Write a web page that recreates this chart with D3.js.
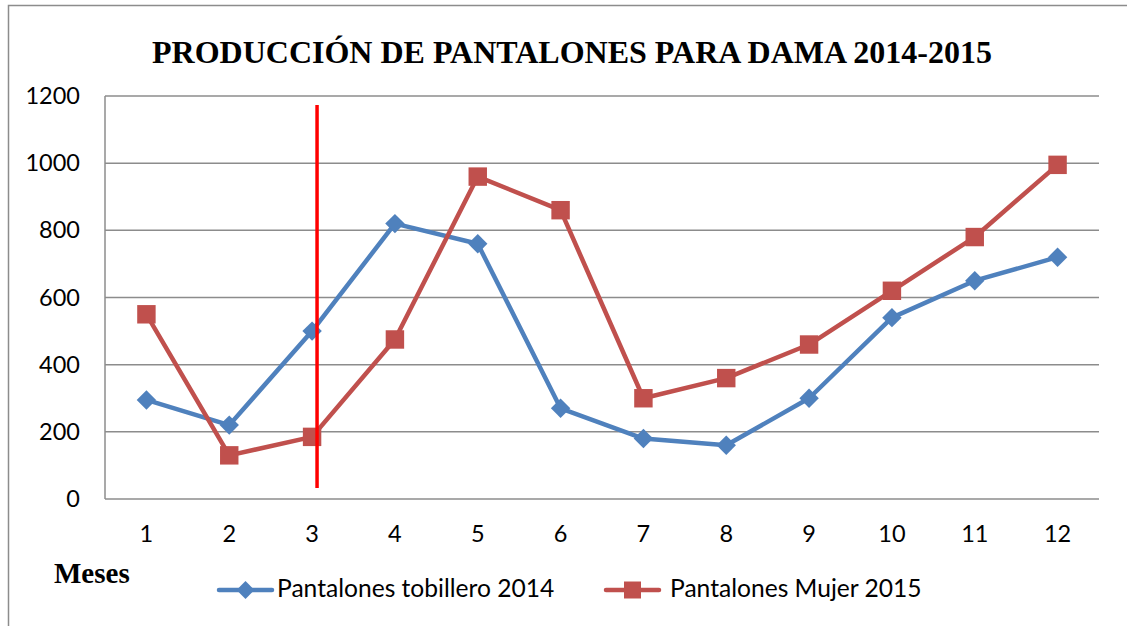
<!DOCTYPE html>
<html>
<head>
<meta charset="utf-8">
<script src="https://cdn.jsdelivr.net/npm/d3@7"></script>
<style>
  body { margin: 0; background: #fff; }
  svg { display: block; }
</style>
</head>
<body>
<div class="bg"></div>
<script>
const months = [1, 2, 3, 4, 5, 6, 7, 8, 9, 10, 11, 12];
const tobillero2014 = [295, 220, 500, 820, 760, 270, 180, 160, 300, 540, 650, 720];
const mujer2015 = [550, 130, 185, 475, 960, 860, 300, 360, 460, 620, 780, 995];
const yTicks = [0, 200, 400, 600, 800, 1000, 1200];
const seriesNames = ["Pantalones tobillero 2014", "Pantalones Mujer 2015"];
// red marker line drawn over the chart, in month / value units
const markerMonth = 3.06;
const markerRange = [33, 1173];

const W = 1127, H = 626;
const margin = { top: 96, right: 28, bottom: 127, left: 105 };
const width = W - margin.left - margin.right;
const height = H - margin.top - margin.bottom;

const svg = d3.select(".bg").append("svg")
  .attr("width", W)
  .attr("height", H);

// outer frame (only top and left edges are visible)
svg.append("path")
  .attr("d", "M8.5," + H + "V5.5H" + W)
  .attr("fill", "none")
  .attr("stroke", "#8c8c8c")
  .attr("stroke-width", 1.5);

svg.append("text")
  .attr("x", 572)
  .attr("y", 63)
  .attr("text-anchor", "middle")
  .attr("font-family", "Liberation Serif, Times New Roman, serif")
  .attr("font-weight", "bold")
  .attr("font-size", 32)
  .text("PRODUCCIÓN DE PANTALONES PARA DAMA 2014-2015");

const g = svg.append("g")
  .attr("transform", "translate(" + margin.left + "," + margin.top + ")");

const xScale = d3.scaleBand().domain(months).range([0, width]);
const yScale = d3.scaleLinear().domain([0, 1200]).range([height, 0]);
const xLin = d3.scaleLinear()
  .domain([1, 12])
  .range([xScale(1) + xScale.bandwidth() / 2, xScale(12) + xScale.bandwidth() / 2]);

// gridlines
g.append("g")
  .selectAll("line")
  .data(yTicks)
  .join("line")
  .attr("x1", 0)
  .attr("x2", width)
  .attr("y1", d => yScale(d))
  .attr("y2", d => yScale(d))
  .attr("stroke", "#8c8c8c")
  .attr("stroke-width", 1.5);

g.append("line")
  .attr("x1", 0).attr("x2", 0)
  .attr("y1", 0).attr("y2", height)
  .attr("stroke", "#8c8c8c")
  .attr("stroke-width", 1.5);

const labelFont = "Lato, Carlito, Calibri, sans-serif";
const labelSize = 23.5;

const yAxis = d3.axisLeft(yScale).tickValues(yTicks).tickFormat(d3.format("d")).tickSize(0).tickPadding(25);
g.append("g").call(yAxis)
  .call(s => s.select(".domain").remove())
  .selectAll("text")
  .attr("font-family", labelFont)
  .attr("font-size", labelSize)
  .attr("fill", "#000");

const xAxis = d3.axisBottom(xScale).tickSize(0).tickPadding(26);
g.append("g")
  .attr("transform", "translate(0," + height + ")")
  .call(xAxis)
  .call(s => s.select(".domain").remove())
  .selectAll("text")
  .attr("font-family", labelFont)
  .attr("font-size", labelSize)
  .attr("fill", "#000");

const blue = "#4f81bd", red = "#c0504d";

const line = d3.line()
  .x((d, i) => xScale(months[i]) + xScale.bandwidth() / 2)
  .y(d => yScale(d));

const series = [
  { name: seriesNames[0], values: tobillero2014, color: blue, symbol: d3.symbolDiamond2, size: 240 },
  { name: seriesNames[1], values: mujer2015, color: red, symbol: d3.symbolSquare, size: 340 }
];

series.forEach(s => {
  g.append("path")
    .datum(s.values)
    .attr("fill", "none")
    .attr("stroke", s.color)
    .attr("stroke-width", 4.5)
    .attr("stroke-linejoin", "round")
    .attr("d", line);
  g.append("g")
    .selectAll("path")
    .data(s.values)
    .join("path")
    .attr("transform", (d, i) => "translate(" + (xScale(months[i]) + xScale.bandwidth() / 2) + "," + yScale(d) + ")")
    .attr("d", d3.symbol(s.symbol, s.size))
    .attr("fill", s.color);
});

// red vertical line
g.append("line")
  .attr("x1", xLin(markerMonth)).attr("x2", xLin(markerMonth))
  .attr("y1", yScale(markerRange[0])).attr("y2", yScale(markerRange[1]))
  .attr("stroke", "#ff0000")
  .attr("stroke-width", 3.5);

svg.append("text")
  .attr("x", 54)
  .attr("y", 583)
  .attr("font-family", "Liberation Serif, Times New Roman, serif")
  .attr("font-weight", "bold")
  .attr("font-size", 29)
  .text("Meses");

// legend
const legendItems = [
  { x: 219, x2: 272, textX: 277 },
  { x: 606, x2: 659, textX: 670 }
];
const legend = svg.append("g");
series.forEach((s, i) => {
  const it = legendItems[i];
  legend.append("line")
    .attr("x1", it.x).attr("x2", it.x2)
    .attr("y1", 590).attr("y2", 590)
    .attr("stroke", s.color)
    .attr("stroke-width", 4.5)
    .attr("stroke-linecap", "round");
  legend.append("path")
    .attr("transform", "translate(" + ((it.x + it.x2) / 2) + ",590)")
    .attr("d", d3.symbol(s.symbol, s.size * 0.85))
    .attr("fill", s.color);
  legend.append("text")
    .attr("x", it.textX)
    .attr("y", 597)
    .attr("font-family", labelFont)
    .attr("font-size", 24.6)
    .attr("fill", "#000")
    .text(s.name);
});
</script>
</body>
</html>
